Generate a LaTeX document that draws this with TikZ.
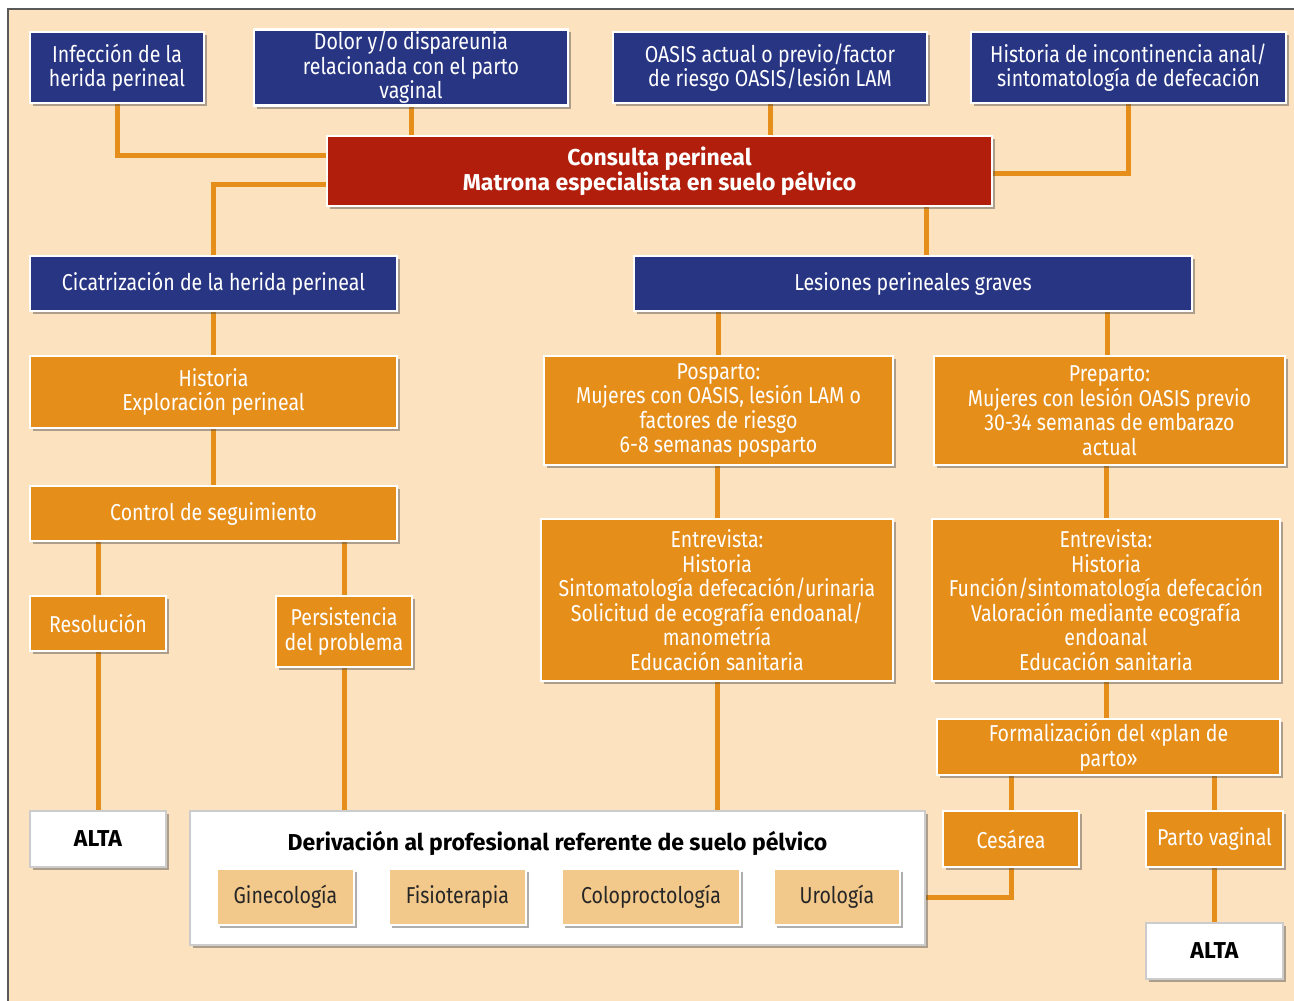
\documentclass[tikz,border=0pt]{standalone}
\usepackage{fontspec}
\setmainfont[FakeStretch=0.85, BoldFeatures={FakeStretch=1.0}]{Fira Sans}
\usetikzlibrary{shadows,backgrounds}

\definecolor{navy}{HTML}{283583}
\definecolor{brick}{HTML}{B11E0B}
\definecolor{amber}{HTML}{E58E1A}
\definecolor{sand}{HTML}{FCE2BF}
\definecolor{tan}{HTML}{F3C98B}

\begin{document}
\begin{tikzpicture}[x=1pt, y=1pt, inner sep=2pt, outer sep=0,
    box/.style={rectangle, draw=white, line width=2.5pt, align=center,
      font=\fontsize{23}{24.5}\selectfont,
      drop shadow={shadow xshift=3pt, shadow yshift=-3pt, opacity=0.45, fill=black!70}},
    navybox/.style={box, fill=navy, text=white},
    redbox/.style={box, fill=brick, text=white, font=\fontsize{23}{24.5}\selectfont\bfseries},
    orangebox/.style={box, fill=amber, text=white},
    whitebox/.style={box, fill=white, draw=black!20, text=black, font=\fontsize{23}{24.5}\selectfont\bfseries},
    tanbox/.style={box, fill=tan, text=black!85},
    link/.style={draw=amber, line width=5pt}]
  \useasboundingbox (0,0) rectangle (1294,-1001);

  % top row
  \node[navybox, minimum width=174, minimum height=71] (infeccion) at (117,-67.5) {Infección de la\\herida perineal};
  \node[navybox, minimum width=314, minimum height=71] (dolor) at (411,-67.5) {Dolor y/o dispareunia\\relacionada con el parto\\vaginal};
  \node[navybox, minimum width=314, minimum height=71] (oasis) at (770,-67.5) {OASIS actual o previo/factor\\de riesgo OASIS/lesión LAM};
  \node[navybox, minimum width=315, minimum height=71] (histanal) at (1128.5,-67.5) {Historia de incontinencia anal/\\sintomatología de defecación};

  \node[redbox, minimum width=665, minimum height=70] (consulta) at (659.5,-171) {Consulta perineal\\Matrona especialista en suelo pélvico};

  \node[navybox, minimum width=367, minimum height=55] (cicatriz) at (213.5,-283.5) {Cicatrización de la herida perineal};
  \node[navybox, minimum width=558, minimum height=55] (lesiones) at (913,-283.5) {Lesiones perineales graves};

  % left branch
  \node[orangebox, minimum width=367, minimum height=72] (explor) at (213.5,-392) {Historia\\Exploración perineal};
  \node[orangebox, minimum width=367, minimum height=55] (control) at (213.5,-513.5) {Control de seguimiento};
  \node[orangebox, minimum width=136, minimum height=55] (resol) at (98,-623.5) {Resolución};
  \node[orangebox, minimum width=136, minimum height=71] (persist) at (344,-631.5) {Persistencia\\del problema};
  \node[whitebox, minimum width=136, minimum height=56] (alta1) at (98,-839) {ALTA};

  % right branch
  \node[orangebox, minimum width=349, minimum height=109] (posparto) at (718.5,-410.5) {Posparto:\\Mujeres con OASIS, lesión LAM o\\factores de riesgo\\6-8 semanas posparto};
  \node[orangebox, minimum width=351, minimum height=109] (preparto) at (1109.5,-410.5) {Preparto:\\Mujeres con lesión OASIS previo\\30-34 semanas de embarazo\\actual};
  \node[orangebox, minimum width=352, minimum height=162] (entrev1) at (717,-600) {Entrevista:\\Historia\\Sintomatología defecación/urinaria\\Solicitud de ecografía endoanal/\\manometría\\Educación sanitaria};
  \node[orangebox, minimum width=348, minimum height=162] (entrev2) at (1106,-600) {Entrevista:\\Historia\\Función/sintomatología defecación\\Valoración mediante ecografía\\endoanal\\Educación sanitaria};
  \node[orangebox, minimum width=343, minimum height=56] (plan) at (1108.5,-747) {Formalización del «plan de\\parto»};
  \node[orangebox, minimum width=136, minimum height=56] (cesarea) at (1011,-839) {Cesárea};
  \node[orangebox, minimum width=137, minimum height=56] (vaginal) at (1214.5,-839) {Parto vaginal};
  \node[whitebox, minimum width=137, minimum height=56] (alta2) at (1214.5,-951) {ALTA};

  % derivacion
  \node[whitebox, minimum width=735, minimum height=134] (deriv) at (557.5,-878) {};
  \node[font=\fontsize{23}{24.5}\selectfont\bfseries] (derivtitle) at (557.5,-843) {Derivación al profesional referente de suelo pélvico};
  \node[tanbox, minimum width=137, minimum height=56] (gineco) at (285.5,-897) {Ginecología};
  \node[tanbox, minimum width=137, minimum height=56] (fisio) at (457.5,-897) {Fisioterapia};
  \node[tanbox, minimum width=178, minimum height=56] (colo) at (651,-897) {Coloproctología};
  \node[tanbox, minimum width=126, minimum height=56] (uro) at (837,-897) {Urología};

  \begin{scope}[on background layer]
    \fill[sand] (8,-9) rectangle (1294,-1001);
    \draw[black!65, line width=1.2pt] (8,-1001) -- (8,-9) -- (1294,-9);

    \draw[link] (infeccion.south) |- ([yshift=16pt]consulta.west);
    \draw[link] (dolor.south) -- (dolor.south |- consulta.north);
    \draw[link] (oasis.south) -- (oasis.south |- consulta.north);
    \draw[link] (histanal.south) |- ([yshift=-2pt]consulta.east);
    \draw[link] ([yshift=-13pt]consulta.west) -| (cicatriz.north);
    \draw[link] ([xshift=266.5pt]consulta.south) -- ([xshift=13pt]lesiones.north);

    \draw[link] (cicatriz.south) -- (explor.north);
    \draw[link] (explor.south) -- (control.north);
    \draw[link] (resol.north) -- (resol.north |- control.south);
    \draw[link] (persist.north) -- (persist.north |- control.south);
    \draw[link] (resol.south) -- (alta1.north);
    \draw[link] (persist.south) -- (persist.south |- deriv.north);

    \draw[link] (posparto.north) -- (posparto.north |- lesiones.south);
    \draw[link] ([xshift=-2pt]preparto.north) -- ([xshift=-2pt]preparto.north |- lesiones.south);
    \draw[link] (entrev1.north) -- (entrev1.north |- posparto.south);
    \draw[link] (entrev2.north) -- (entrev2.north |- preparto.south);
    \draw[link] (entrev1.south) -- (entrev1.south |- deriv.north);
    \draw[link] (entrev2.south) -- (entrev2.south |- plan.north);
    \draw[link] (cesarea.north) -- (cesarea.north |- plan.south);
    \draw[link] (vaginal.north) -- (vaginal.north |- plan.south);
    \draw[link] (cesarea.south) |- ([yshift=-19pt]deriv.east);
    \draw[link] (vaginal.south) -- (alta2.north);
  \end{scope}
\end{tikzpicture}
\end{document}
